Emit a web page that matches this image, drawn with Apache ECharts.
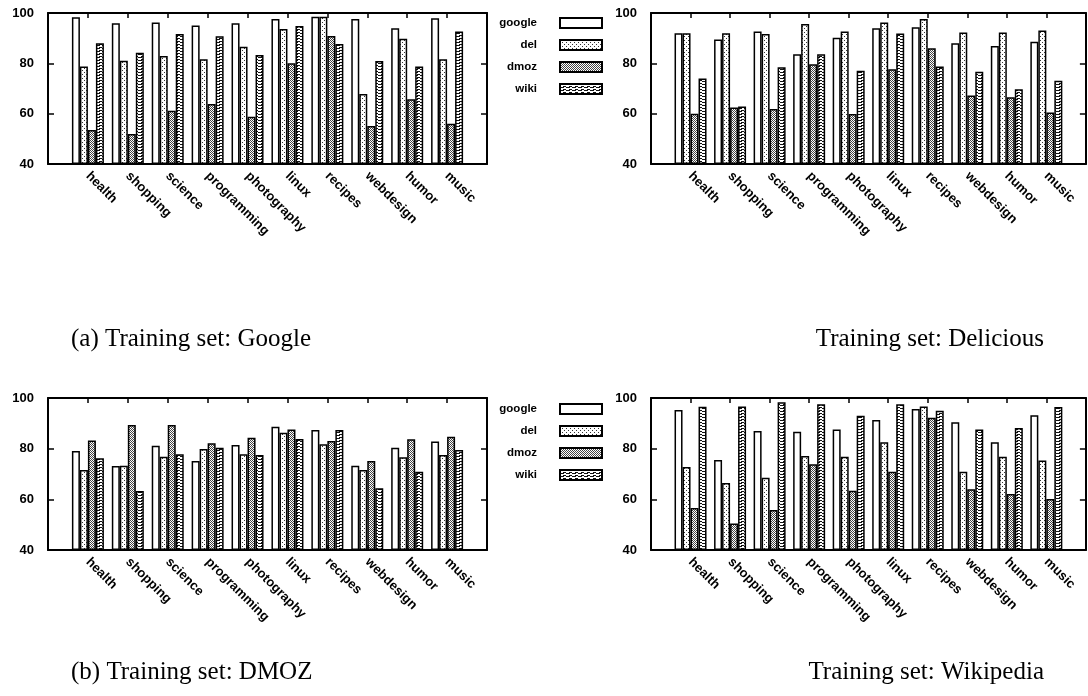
<!DOCTYPE html>
<html><head><meta charset="utf-8">
<script src="https://cdn.jsdelivr.net/npm/echarts@6/dist/echarts.min.js"></script>
<style>html,body{margin:0;padding:0;background:#fff}#c{width:1088px;height:696px}</style>
</head><body><div id="c"></div>
<script>
const categories = ['health','shopping','science','programming','photography','linux','recipes','webdesign','humor','music'];
const seriesNames = ['google','del','dmoz','wiki'];
const yTicks = [40, 60, 80, 100];
const captions = ['(a) Training set: Google','Training set: Delicious','(b) Training set: DMOZ','Training set: Wikipedia'];

// Panel (a): Training set Google
const trainGoogle_google = [98.3, 95.9, 96.2, 95.0, 95.9, 97.6, 98.5, 97.6, 93.9, 97.9];
const trainGoogle_del    = [78.7, 81.0, 82.9, 81.6, 86.6, 93.6, 98.5, 67.8, 89.8, 81.6];
const trainGoogle_dmoz   = [53.5, 51.9, 61.2, 63.8, 58.8, 80.0, 90.9, 55.1, 65.7, 56.0];
const trainGoogle_wiki   = [88.0, 84.2, 91.7, 90.8, 83.3, 94.8, 87.7, 80.9, 78.7, 92.6];
// Training set Delicious
const trainDel_google = [92.0, 89.5, 92.6, 83.6, 90.2, 93.9, 94.3, 88.0, 86.9, 88.6];
const trainDel_del    = [92.0, 92.0, 91.7, 95.6, 92.6, 96.2, 97.6, 92.3, 92.3, 93.0];
const trainDel_dmoz   = [60.0, 62.5, 61.9, 79.6, 59.9, 77.6, 86.0, 67.2, 66.5, 60.5];
const trainDel_wiki   = [74.0, 62.8, 78.4, 83.6, 77.1, 91.9, 78.7, 76.7, 69.7, 73.1];
// Panel (b): Training set DMOZ
const trainDmoz_google = [79.1, 73.2, 81.2, 75.1, 81.4, 88.7, 87.4, 73.3, 80.4, 82.8];
const trainDmoz_del    = [71.6, 73.3, 76.8, 79.9, 77.8, 86.3, 81.7, 71.6, 76.6, 77.5];
const trainDmoz_dmoz   = [83.2, 89.3, 89.3, 82.1, 84.3, 87.6, 83.0, 75.1, 83.7, 84.7];
const trainDmoz_wiki   = [76.2, 63.3, 77.8, 80.4, 77.5, 83.8, 87.4, 64.4, 70.9, 79.5];
// Training set Wikipedia
const trainWiki_google = [95.3, 75.5, 87.0, 86.7, 87.6, 91.3, 95.7, 90.4, 82.5, 93.2];
const trainWiki_del    = [72.8, 66.4, 68.5, 77.1, 76.8, 82.5, 96.6, 70.9, 76.8, 75.3];
const trainWiki_dmoz   = [56.6, 50.5, 55.8, 73.8, 63.4, 70.9, 92.2, 64.0, 62.1, 60.1];
const trainWiki_wiki   = [96.5, 96.6, 98.3, 97.5, 93.0, 97.5, 95.0, 87.6, 88.2, 96.4];

const panels = [
  [trainGoogle_google, trainGoogle_del, trainGoogle_dmoz, trainGoogle_wiki],
  [trainDel_google, trainDel_del, trainDel_dmoz, trainDel_wiki],
  [trainDmoz_google, trainDmoz_del, trainDmoz_dmoz, trainDmoz_wiki],
  [trainWiki_google, trainWiki_del, trainWiki_dmoz, trainWiki_wiki]
];

function pattern(w, h, pts, col) {
  const c = document.createElement('canvas');
  c.width = w; c.height = h;
  const g = c.getContext('2d');
  g.fillStyle = '#fff'; g.fillRect(0, 0, w, h);
  g.fillStyle = col || '#000';
  pts.forEach(p => g.fillRect(p[0], p[1], p[2] || 1, p[3] || 1));
  return {image: c, repeat: 'repeat'};
}
const fills = [
  '#ffffff',
  pattern(4, 4, [[0,0],[2,2]], '#333'),
  pattern(2, 2, [[0,0],[1,1]], '#444'),
  pattern(6, 3, [[0,0,4,1],[3,2,3,1]], '#111')
];

const grids = [
  {left: 48, top: 13, width: 439, height: 151},
  {left: 651, top: 13, width: 436, height: 151},
  {left: 48, top: 398, width: 439, height: 152},
  {left: 651, top: 398, width: 436, height: 152}
];
const padCats = [''].concat(categories, ['']);
const xAxis = [], yAxis = [], series = [];
const lineStyle = {color: '#000', width: 2};
grids.forEach((g, i) => {
  xAxis.push({type: 'category', gridIndex: i, data: padCats, boundaryGap: false,
    axisLine: {lineStyle}, axisTick: {inside: true, length: 5, interval: 0, lineStyle: {color:'#000', width: 1.5}},
    axisLabel: {rotate: -45, interval: 0, margin: 10, fontSize: 13, fontWeight: 'bold', color: '#000', fontFamily: 'Liberation Sans'},
    splitLine: {show: false}, z: 5});
  xAxis.push({type: 'category', gridIndex: i, data: padCats, boundaryGap: false, position: 'top',
    axisLine: {lineStyle}, axisTick: {inside: true, length: 5, interval: 0, lineStyle: {color:'#000', width: 1.5}},
    axisLabel: {show: false}, splitLine: {show: false}, z: 5});
  yAxis.push({type: 'value', gridIndex: i, min: yTicks[0], max: yTicks[yTicks.length-1], interval: 20, startValue: 40,
    axisLine: {show: true, lineStyle}, axisTick: {show: true, inside: true, length: 6, lineStyle: {color:'#000', width: 1.5}},
    axisLabel: {margin: 14, fontSize: 13, fontWeight: 'bold', color: '#000', fontFamily: 'Liberation Sans'},
    splitLine: {show: false}, z: 5});
  yAxis.push({type: 'value', gridIndex: i, min: yTicks[0], max: yTicks[yTicks.length-1], interval: 20, position: 'right', startValue: 40,
    axisLine: {show: true, lineStyle}, axisTick: {show: true, inside: true, length: 6, lineStyle: {color:'#000', width: 1.5}},
    axisLabel: {show: false}, splitLine: {show: false}, z: 5});
  panels[i].forEach((vals, k) => {
    series.push({type: 'bar', name: seriesNames[k], xAxisIndex: 2*i, yAxisIndex: 2*i,
      data: [null].concat(vals, [null]), barWidth: 8, barGap: '0%',
      itemStyle: {color: fills[k], borderColor: '#000', borderWidth: 1.5},
      emphasis: {disabled: true}, silent: true, animation: false});
  });
});

const legendBase = {orient: 'vertical', left: 492, align: 'right', icon: 'rect',
  itemWidth: 42, itemHeight: 10, itemGap: 8, selectedMode: false, data: seriesNames,
  textStyle: {fontSize: 11.5, fontWeight: 'bold', color: '#000', fontFamily: 'Liberation Sans',
    width: 40, align: 'right', lineHeight: 14, padding: [0, 18, 0, 0]}};
const legends = [Object.assign({}, legendBase, {top: 11}), Object.assign({}, legendBase, {top: 397})];

const capStyle = {fontFamily: 'Liberation Serif', fontSize: 25, fontWeight: 'normal', color: '#000'};
const title = [
  {text: captions[0], left: 66, top: 322, textStyle: capStyle},
  {text: captions[1], right: 39, top: 322, textStyle: capStyle},
  {text: captions[2], left: 66, top: 655, textStyle: capStyle},
  {text: captions[3], right: 39, top: 655, textStyle: capStyle}
];

const chart = echarts.init(document.getElementById('c'), null, {renderer: 'canvas'});
chart.setOption({animation: false, backgroundColor: '#fff', title, legend: legends, grid: grids, xAxis, yAxis, series});
</script></body></html>
